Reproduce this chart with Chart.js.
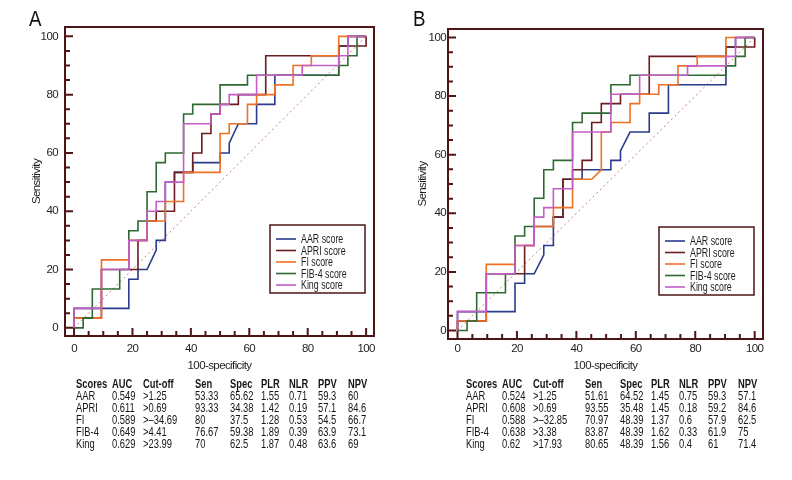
<!DOCTYPE html>
<html lang="en">
<head>
<meta charset="UTF-8">
<title>ROC curves A / B</title>
<script src="https://cdn.jsdelivr.net/npm/chart.js@4.4.1/dist/chart.umd.min.js"></script>
<style>
  body { margin: 0; width: 792px; height: 480px; background: #fff; position: relative; overflow: hidden;
         font-family: "Liberation Sans", Arial, sans-serif; color: #1e1e1e; }
  .panel { position: absolute; top: 0; }
  .letter { position: absolute; top: 7px; font-size: 22px; line-height: 24px; color: #111;
            transform: scaleX(0.85); transform-origin: left top; }
  .tbl { position: absolute; top: 378px; font-size: 13px; line-height: 12px; color: #151515; }
  .tbl div { position: absolute; white-space: nowrap; transform: scaleX(0.72); transform-origin: left top; }
  .tbl .head { font-weight: bold; }
</style>
</head>
<body>
<canvas id="chartA" class="panel" width="396" height="380" style="left:0"></canvas>
<canvas id="chartB" class="panel" width="396" height="380" style="left:396px"></canvas>
<div class="letter" style="left:29px">A</div>
<div class="letter" style="left:413px">B</div>
<div id="tableA" class="tbl" style="left:76px"></div>
<div id="tableB" class="tbl" style="left:466px"></div>

<script>
// ---- data ----
const scoreNames = ['AAR', 'APRI', 'FI', 'FIB-4', 'King'];
const xTicks = [0, 20, 40, 60, 80, 100];
const yTicks = [0, 20, 40, 60, 80, 100];
const tickMarks = [0, 5, 10, 15, 20, 25, 30, 35, 40, 45, 50, 55, 60, 65, 70, 75, 80, 85, 90, 95, 100];
const refLine = [[0, 0], [100, 100]];

// panel A: [100-specificity, sensitivity]
const aarA = [[0,0],[0,6.67],[18.75,6.67],[18.75,16.67],[21.88,16.67],[21.88,20],[25,20],[28.13,26.67],[28.13,30],[31.25,30],[31.25,50],[34.38,50],[34.38,53.33],[40.63,53.33],[40.63,56.67],[50,56.67],[50,60],[53.13,60],[53.13,63.33],[56.25,70],[62.5,70],[62.5,76.67],[68.75,76.67],[68.75,86.67],[90.63,86.67],[90.63,96.67],[93.75,96.67],[93.75,100],[100,100]];
const apriA = [[0,0],[0,3.33],[9.38,3.33],[9.38,20],[21.88,20],[21.88,30],[25,30],[25,36.67],[28.13,36.67],[28.13,40],[34.38,40],[34.38,53.33],[40.63,53.33],[40.63,60],[43.75,60],[43.75,66.67],[46.88,66.67],[46.88,73.33],[50,73.33],[50,76.67],[56.25,76.67],[56.25,80],[65.63,80],[65.63,93.33],[90.63,93.33],[90.63,96.67],[100,96.67],[100,100]];
const fiA = [[0,0],[0,3.33],[9.38,3.33],[9.38,23.33],[18.75,23.33],[18.75,30],[25,30],[25,36.67],[31.25,36.67],[31.25,43.33],[37.5,43.33],[37.5,53.33],[50,53.33],[50,66.67],[53.13,66.67],[53.13,70],[59.38,70],[59.38,76.67],[62.5,76.67],[62.5,80],[68.75,80],[68.75,83.33],[75,83.33],[75,90],[81.25,90],[81.25,93.33],[90.63,93.33],[90.63,100],[100,100]];
const fib4A = [[0,0],[3.13,0],[3.13,3.33],[6.25,3.33],[6.25,13.33],[15.63,13.33],[15.63,20],[18.75,20],[18.75,33.33],[21.88,33.33],[21.88,36.67],[25,36.67],[25,46.67],[28.13,46.67],[28.13,56.67],[31.25,56.67],[31.25,60],[37.5,60],[37.5,73.33],[40.63,73.33],[40.63,76.67],[50,76.67],[50,83.33],[59.38,83.33],[59.38,86.67],[90.63,86.67],[90.63,90],[93.75,90],[93.75,93.33],[96.88,93.33],[96.88,100],[100,100]];
const kingA = [[0,0],[0,6.67],[9.38,6.67],[9.38,20],[18.75,20],[18.75,30],[25,30],[25,40],[28.13,40],[28.13,43.33],[31.25,43.33],[31.25,50],[37.5,50],[37.5,70],[46.88,70],[46.88,73.33],[50,73.33],[50,76.67],[53.13,76.67],[53.13,80],[62.5,80],[62.5,86.67],[78.13,86.67],[78.13,90],[90.63,90],[90.63,93.33],[93.75,93.33],[93.75,100],[100,100]];

// panel B
const aarB = [[0,0],[0,6.45],[19.35,6.45],[19.35,16.13],[22.58,16.13],[22.58,19.35],[25.81,19.35],[29.03,25.81],[29.03,29.03],[32.26,29.03],[32.26,38.71],[35.48,38.71],[35.48,51.61],[41.94,51.61],[41.94,54.84],[51.61,54.84],[51.61,58.06],[54.84,58.06],[54.84,61.29],[58.06,67.74],[64.52,67.74],[64.52,74.19],[70.97,74.19],[70.97,83.87],[90.32,83.87],[90.32,96.77],[93.55,96.77],[93.55,100],[100,100]];
const apriB = [[0,0],[0,3.23],[9.68,3.23],[9.68,19.35],[22.58,19.35],[22.58,29.03],[25.81,29.03],[25.81,35.48],[32.26,35.48],[32.26,38.71],[35.48,38.71],[35.48,51.61],[38.71,51.61],[38.71,54.84],[41.94,54.84],[41.94,58.06],[45.16,58.06],[45.16,70.97],[48.39,70.97],[48.39,77.42],[54.84,77.42],[54.84,80.65],[64.52,80.65],[64.52,93.55],[90.32,93.55],[90.32,96.77],[100,96.77],[100,100]];
const fiB = [[0,0],[0,3.23],[9.68,3.23],[9.68,22.58],[19.35,22.58],[19.35,29.03],[25.81,29.03],[25.81,35.48],[32.26,35.48],[32.26,41.94],[38.71,41.94],[38.71,51.61],[45.16,51.61],[48.39,54.84],[48.39,67.74],[51.61,67.74],[51.61,70.97],[58.06,70.97],[58.06,77.42],[61.29,77.42],[61.29,80.65],[67.74,80.65],[67.74,83.87],[74.19,83.87],[74.19,90.32],[80.65,90.32],[80.65,93.55],[90.32,93.55],[90.32,100],[100,100]];
const fib4B = [[0,0],[3.23,0],[3.23,3.23],[6.45,3.23],[6.45,12.9],[16.13,12.9],[16.13,19.35],[19.35,19.35],[19.35,32.26],[22.58,32.26],[22.58,35.48],[25.81,35.48],[25.81,45.16],[29.03,45.16],[29.03,54.84],[32.26,54.84],[32.26,58.06],[38.71,58.06],[38.71,70.97],[41.94,70.97],[41.94,74.19],[51.61,74.19],[51.61,83.87],[58.06,83.87],[58.06,87.1],[90.32,87.1],[90.32,90.32],[93.55,90.32],[93.55,93.55],[96.77,93.55],[96.77,100],[100,100]];
const kingB = [[0,0],[0,6.45],[9.68,6.45],[9.68,19.35],[19.35,19.35],[19.35,29.03],[25.81,29.03],[25.81,38.71],[29.03,38.71],[29.03,41.94],[32.26,41.94],[32.26,48.39],[38.71,48.39],[38.71,67.74],[51.61,67.74],[51.61,80.65],[61.29,80.65],[61.29,87.1],[77.42,87.1],[77.42,90.32],[90.32,90.32],[90.32,93.55],[93.55,93.55],[93.55,100],[100,100]];

// tables
const tableHead = ['Scores', 'AUC', 'Cut-off', 'Sen', 'Spec', 'PLR', 'NLR', 'PPV', 'NPV'];
const aucA = ['0.549', '0.611', '0.589', '0.649', '0.629'];
const cutA = ['>1.25', '>0.69', '>\u201334.69', '>4.41', '>23.99'];
const senA = ['53.33', '93.33', '80', '76.67', '70'];
const specA = ['65.62', '34.38', '37.5', '59.38', '62.5'];
const plrA = ['1.55', '1.42', '1.28', '1.89', '1.87'];
const nlrA = ['0.71', '0.19', '0.53', '0.39', '0.48'];
const ppvA = ['59.3', '57.1', '54.5', '63.9', '63.6'];
const npvA = ['60', '84.6', '66.7', '73.1', '69'];

const aucB = ['0.524', '0.608', '0.588', '0.638', '0.62'];
const cutB = ['>1.25', '>0.69', '>\u201332.85', '>3.38', '>17.93'];
const senB = ['51.61', '93.55', '70.97', '83.87', '80.65'];
const specB = ['64.52', '35.48', '48.39', '48.39', '48.39'];
const plrB = ['1.45', '1.45', '1.37', '1.62', '1.56'];
const nlrB = ['0.75', '0.18', '0.6', '0.33', '0.4'];
const ppvB = ['59.3', '59.2', '57.9', '61.9', '61'];
const npvB = ['57.1', '84.6', '62.5', '75', '71.4'];

// ---- styles ----
const lineColors = ['#2b3b8c', '#6b1c1e', '#f07024', '#2e6a30', '#c25ec6'];
const drawOrder = [5, 4, 3, 2, 1];
const frameColor = '#4e1516';
const textColor = '#1e1e1e';
const baseFont = { family: '"Liberation Sans", Arial, sans-serif', size: 11.5 };
const colX = [0, 36, 67, 119, 154, 185, 213, 242, 272];

// the original uses a condensed face; tighten the canvas text a little
const narrowText = {
  id: 'narrowText',
  beforeDraw(chart) { chart.ctx.letterSpacing = '-0.6px'; }
};

const framePlugin = {
  id: 'frame',
  afterDatasetsDraw(chart) {
    const { ctx, chartArea: a, scales: { x, y } } = chart;
    ctx.save();
    ctx.strokeStyle = frameColor;
    ctx.lineWidth = 2;
    ctx.strokeRect(a.left, a.top, a.right - a.left, a.bottom - a.top);
    tickMarks.forEach(v => {
      const len = v % 20 === 0 ? 8 : 5;
      const px = x.getPixelForValue(v);
      const py = y.getPixelForValue(v);
      ctx.beginPath();
      ctx.moveTo(px, a.bottom); ctx.lineTo(px, a.bottom - len);
      ctx.moveTo(a.left, py); ctx.lineTo(a.left + len, py);
      ctx.stroke();
    });
    ctx.restore();
  }
};

// legend box drawn inside the plot
const boxLegend = {
  id: 'boxLegend',
  afterDraw(chart, args, opts) {
    const { ctx, chartArea: a } = chart;
    const left = a.right - opts.right - opts.width;
    const top = a.top + opts.top;
    ctx.save();
    ctx.letterSpacing = '0px';
    ctx.fillStyle = '#fff';
    ctx.fillRect(left, top, opts.width, opts.height);
    ctx.strokeStyle = frameColor;
    ctx.lineWidth = 1.5;
    ctx.strokeRect(left, top, opts.width, opts.height);
    ctx.font = '13px ' + baseFont.family;
    ctx.textBaseline = 'middle';
    ctx.fillStyle = textColor;
    chart.data.datasets.slice(0, scoreNames.length).forEach((ds, i) => {
      const cy = top + 14 + i * 11.5;
      ctx.strokeStyle = ds.borderColor;
      ctx.lineWidth = 1.6;
      ctx.beginPath();
      ctx.moveTo(left + 6, cy); ctx.lineTo(left + 26, cy);
      ctx.stroke();
      ctx.save();
      ctx.translate(left + 31, cy + 0.5);
      ctx.scale(0.68, 1);
      ctx.fillText(ds.label, 0, 0);
      ctx.restore();
    });
    ctx.restore();
  }
};

function makeChart(id, series, lay) {
  const datasets = series.map((s, i) => ({
    label: scoreNames[i] + ' score',
    data: s.map(p => ({ x: p[0], y: p[1] })),
    borderColor: lineColors[i],
    borderWidth: 1.6,
    pointRadius: 0,
    tension: 0,
    fill: false,
    order: drawOrder[i]
  }));
  datasets.push({
    label: 'reference',
    data: refLine.map(p => ({ x: p[0], y: p[1] })),
    borderColor: '#c77b8c',
    borderWidth: 1,
    borderDash: [2, 3],
    pointRadius: 0,
    order: 9
  });

  return new Chart(document.getElementById(id), {
    type: 'line',
    data: { datasets },
    options: {
      responsive: false,
      animation: false,
      devicePixelRatio: 1,
      layout: { padding: { top: lay.top, right: lay.right, left: 0, bottom: 0 } },
      plugins: {
        legend: { display: false },
        tooltip: { enabled: false },
        boxLegend: { right: 9, width: 95, top: 198, height: 68 }
      },
      scales: {
        x: {
          type: 'linear', min: lay.xMin, max: lay.xMax,
          grid: { display: false, drawTicks: false },
          border: { display: false },
          afterBuildTicks: s => { s.ticks = xTicks.map(v => ({ value: v })); },
          afterFit: s => { s.height = lay.xH; },
          ticks: { font: baseFont, color: textColor, padding: lay.xPad, maxRotation: 0, autoSkip: false },
          title: { display: true, text: '100-specificity', font: baseFont, color: textColor, padding: { top: 0, bottom: 7.5 } }
        },
        y: {
          type: 'linear', min: lay.yMin, max: lay.yMax,
          grid: { display: false, drawTicks: false },
          border: { display: false },
          afterBuildTicks: s => { s.ticks = yTicks.map(v => ({ value: v })); },
          afterFit: s => { s.width = lay.yW; },
          ticks: { font: baseFont, color: textColor, padding: lay.yPad, autoSkip: false },
          title: { display: true, text: 'Sensitivity', font: baseFont, color: textColor, padding: { top: lay.yTitlePad, bottom: 0 } }
        }
      }
    },
    plugins: [narrowText, framePlugin, boxLegend]
  });
}

function makeTable(id, cols) {
  const box = document.getElementById(id);
  const rows = [tableHead].concat(scoreNames.map((n, r) => [n].concat(cols.map(c => c[r]))));
  rows.forEach((row, r) => {
    row.forEach((txt, c) => {
      const d = document.createElement('div');
      d.textContent = txt;
      d.style.left = colX[c] + 'px';
      d.style.top = (r * 12) + 'px';
      if (r === 0) d.className = 'head';
      box.appendChild(d);
    });
  });
}

makeChart('chartA', [aarA, apriA, fiA, fib4A, kingA], {
  top: 27, right: 22, xH: 44, yW: 65, xMin: -3.1, xMax: 102.7, yMin: -2.8, yMax: 103.2,
  xPad: 6, yPad: 7, yTitlePad: 29.5
});
makeChart('chartB', [aarB, apriB, fiB, fib4B, kingB], {
  top: 29, right: 29, xH: 41, yW: 52, xMin: -3.2, xMax: 102.8, yMin: -2.9, yMax: 102.9,
  xPad: 3, yPad: 2, yTitlePad: 19.5
});

makeTable('tableA', [aucA, cutA, senA, specA, plrA, nlrA, ppvA, npvA]);
makeTable('tableB', [aucB, cutB, senB, specB, plrB, nlrB, ppvB, npvB]);
</script>
</body>
</html>
